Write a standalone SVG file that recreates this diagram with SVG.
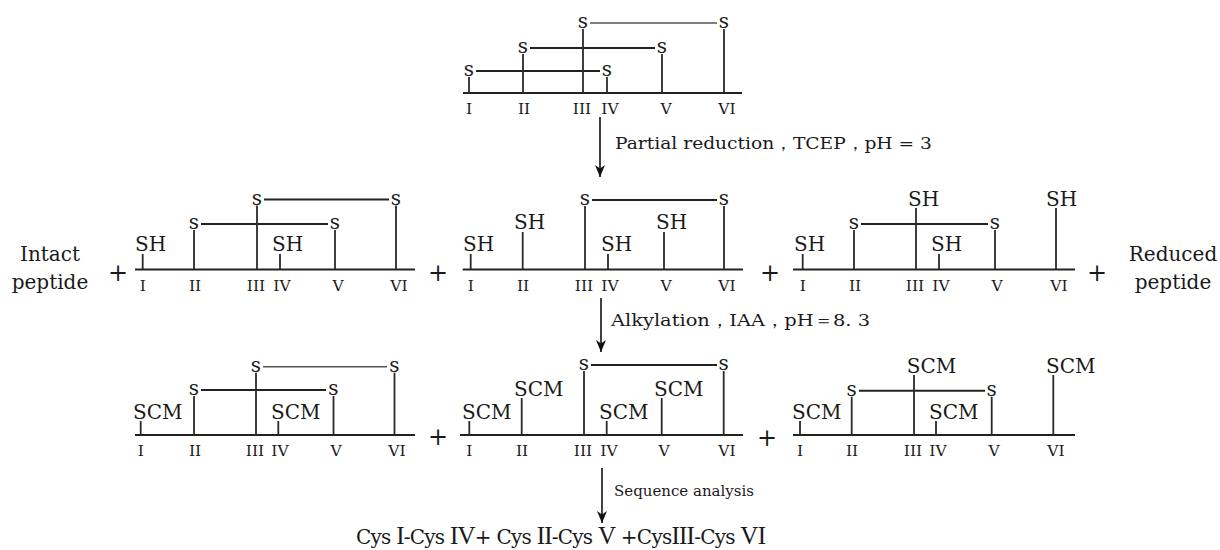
<svg xmlns="http://www.w3.org/2000/svg" width="1220" height="550" viewBox="0 0 1220 550">
<defs>
<marker id="ah" markerUnits="userSpaceOnUse" markerWidth="13" markerHeight="10" refX="12" refY="5" orient="auto" viewBox="0 0 13 10">
<path d="M0,0 L12,5 L0,10 L3.5,5 z" fill="#111"/>
</marker>
<style>
.t{font-family:"DejaVu Serif","Liberation Serif",serif;fill:#1a1a1a}
.lb{font-size:20px}
.s{font-size:20px;text-anchor:middle}
.n{font-size:15.5px;text-anchor:middle}
.pl{font-size:24px;text-anchor:middle}
.st{font-size:17px}
.sq{font-size:15px}
.bl{stroke:#222;stroke-width:2;fill:none}
.v{stroke:#2a2a2a;stroke-width:1.8;fill:none}
.sl{stroke:#222;stroke-width:2;fill:none}
.sll{stroke:#555;stroke-width:1.4;fill:none}
.ar{stroke:#111;stroke-width:1.6;fill:none}
</style>
</defs>
<rect width="1220" height="550" fill="#fff"/>

<g id="native-peptide">
<line class="bl" x1="463" y1="93" x2="742" y2="93"/>
<line class="sll" x1="590" y1="23" x2="717" y2="23"/>
<line class="sl" x1="530" y1="48" x2="655" y2="48"/>
<line class="sl" x1="476" y1="71" x2="600" y2="71"/>
<line class="v" x1="469" y1="77" x2="469" y2="93"/>
<line class="v" x1="607" y1="77" x2="607" y2="93"/>
<line class="v" x1="523" y1="54" x2="523" y2="93"/>
<line class="v" x1="662" y1="54" x2="662" y2="93"/>
<line class="v" x1="583" y1="29" x2="583" y2="93"/>
<line class="v" x1="724" y1="29" x2="724" y2="93"/>
<g class="t s"><text x="583" y="28">s</text><text x="724" y="28">s</text><text x="523" y="53">s</text><text x="662" y="53">s</text><text x="469" y="76">s</text><text x="607" y="76">s</text></g>
<g class="t n"><text x="469" y="114">I</text><text x="524" y="114">II</text><text x="582" y="114">III</text><text x="610" y="114">IV</text><text x="666" y="114">V</text><text x="727" y="114">VI</text></g>
</g>

<g id="intact-label" class="t lb" text-anchor="middle"><text x="50" y="261">Intact</text><text x="50" y="289">peptide</text></g>
<g id="reduced-label" class="t lb" text-anchor="middle"><text x="1173" y="261">Reduced</text><text x="1173" y="289">peptide</text></g>

<g id="partial-1">
<line class="bl" x1="135" y1="269.5" x2="415" y2="269.5"/>
<line class="sl" x1="264" y1="199.5" x2="389" y2="199.5"/>
<line class="sl" x1="201" y1="224" x2="328" y2="224"/>
<line class="v" x1="257" y1="205.5" x2="257" y2="269.5"/>
<line class="v" x1="396" y1="205.5" x2="396" y2="269.5"/>
<line class="v" x1="194" y1="230" x2="194" y2="269.5"/>
<line class="v" x1="335" y1="230" x2="335" y2="269.5"/>
<line class="v" x1="142.7" y1="254" x2="142.7" y2="269.5"/>
<line class="v" x1="280" y1="254" x2="280" y2="269.5"/>
<g class="t s"><text x="257" y="204.5">s</text><text x="396" y="204.5">s</text><text x="194" y="229">s</text><text x="335" y="229">s</text></g>
<g class="t lb"><text x="135" y="250.5">SH</text><text x="272" y="250.5">SH</text></g>
<g class="t n"><text x="142.7" y="291">I</text><text x="195" y="291">II</text><text x="256" y="291">III</text><text x="282" y="291">IV</text><text x="338" y="291">V</text><text x="399" y="291">VI</text></g>
</g>

<g id="partial-2">
<line class="bl" x1="462.7" y1="269.5" x2="743" y2="269.5"/>
<line class="sl" x1="592" y1="200" x2="717" y2="200"/>
<line class="v" x1="585" y1="206" x2="585" y2="269.5"/>
<line class="v" x1="724" y1="206" x2="724" y2="269.5"/>
<line class="v" x1="522.7" y1="232" x2="522.7" y2="269.5"/>
<line class="v" x1="664" y1="232" x2="664" y2="269.5"/>
<line class="v" x1="470.7" y1="254" x2="470.7" y2="269.5"/>
<line class="v" x1="608" y1="254" x2="608" y2="269.5"/>
<g class="t s"><text x="585" y="205">s</text><text x="724" y="205">s</text></g>
<g class="t lb"><text x="463" y="250.5">SH</text><text x="514" y="229">SH</text><text x="601" y="250.5">SH</text><text x="656" y="229">SH</text></g>
<g class="t n"><text x="470.7" y="291">I</text><text x="523" y="291">II</text><text x="584" y="291">III</text><text x="610" y="291">IV</text><text x="666" y="291">V</text><text x="727" y="291">VI</text></g>
</g>

<g id="partial-3">
<line class="bl" x1="793" y1="269.5" x2="1075" y2="269.5"/>
<line class="sl" x1="861" y1="224" x2="988" y2="224"/>
<line class="v" x1="854" y1="230" x2="854" y2="269.5"/>
<line class="v" x1="995" y1="230" x2="995" y2="269.5"/>
<line class="v" x1="916" y1="208" x2="916" y2="269.5"/>
<line class="v" x1="1056" y1="208" x2="1056" y2="269.5"/>
<line class="v" x1="802.7" y1="254" x2="802.7" y2="269.5"/>
<line class="v" x1="939" y1="254" x2="939" y2="269.5"/>
<g class="t s"><text x="854" y="229">s</text><text x="995" y="229">s</text></g>
<g class="t lb"><text x="794" y="250.5">SH</text><text x="908" y="205.5">SH</text><text x="931" y="250.5">SH</text><text x="1046" y="205.5">SH</text></g>
<g class="t n"><text x="802.7" y="291">I</text><text x="855" y="291">II</text><text x="915" y="291">III</text><text x="941" y="291">IV</text><text x="997" y="291">V</text><text x="1059" y="291">VI</text></g>
</g>

<g id="plus-row2" class="t pl"><text x="118" y="280.5">+</text><text x="438" y="280.5">+</text><text x="770" y="280.5">+</text><text x="1097" y="280.5">+</text></g>

<g id="alkylated-1">
<line class="bl" x1="135" y1="435" x2="415" y2="435"/>
<line class="sll" x1="263" y1="366.7" x2="387" y2="366.7"/>
<line class="sl" x1="201" y1="390" x2="326" y2="390"/>
<line class="v" x1="256" y1="372.7" x2="256" y2="435"/>
<line class="v" x1="394.5" y1="372.7" x2="394.5" y2="435"/>
<line class="v" x1="194" y1="396" x2="194" y2="435"/>
<line class="v" x1="333.5" y1="396" x2="333.5" y2="435"/>
<line class="v" x1="140.7" y1="421" x2="140.7" y2="435"/>
<line class="v" x1="278.3" y1="421" x2="278.3" y2="435"/>
<g class="t s"><text x="256" y="371.7">s</text><text x="394.5" y="371.7">s</text><text x="194" y="395">s</text><text x="333.5" y="395">s</text></g>
<g class="t lb"><text x="133" y="419">SCM</text><text x="271" y="419">SCM</text></g>
<g class="t n"><text x="140.7" y="456">I</text><text x="195" y="456">II</text><text x="255" y="456">III</text><text x="280" y="456">IV</text><text x="336" y="456">V</text><text x="397" y="456">VI</text></g>
</g>

<g id="alkylated-2">
<line class="bl" x1="460" y1="435" x2="743" y2="435"/>
<line class="sl" x1="591" y1="365" x2="717" y2="365"/>
<line class="v" x1="584" y1="371" x2="584" y2="435"/>
<line class="v" x1="723.7" y1="371" x2="723.7" y2="435"/>
<line class="v" x1="521.7" y1="398" x2="521.7" y2="435"/>
<line class="v" x1="661.7" y1="398" x2="661.7" y2="435"/>
<line class="v" x1="469.3" y1="421" x2="469.3" y2="435"/>
<line class="v" x1="606.7" y1="421" x2="606.7" y2="435"/>
<g class="t s"><text x="584" y="370">s</text><text x="723.7" y="370">s</text></g>
<g class="t lb"><text x="462" y="419">SCM</text><text x="514" y="396">SCM</text><text x="599" y="419">SCM</text><text x="654" y="396">SCM</text></g>
<g class="t n"><text x="469.3" y="456">I</text><text x="522" y="456">II</text><text x="583" y="456">III</text><text x="609" y="456">IV</text><text x="664" y="456">V</text><text x="727" y="456">VI</text></g>
</g>

<g id="alkylated-3">
<line class="bl" x1="793" y1="435" x2="1075" y2="435"/>
<line class="sl" x1="859" y1="390.7" x2="985" y2="390.7"/>
<line class="v" x1="851.7" y1="396.7" x2="851.7" y2="435"/>
<line class="v" x1="991.7" y1="396.7" x2="991.7" y2="435"/>
<line class="v" x1="914" y1="375" x2="914" y2="435"/>
<line class="v" x1="1053.3" y1="375" x2="1053.3" y2="435"/>
<line class="v" x1="800" y1="421" x2="800" y2="435"/>
<line class="v" x1="936" y1="421" x2="936" y2="435"/>
<g class="t s"><text x="851.7" y="395.7">s</text><text x="991.7" y="395.7">s</text></g>
<g class="t lb"><text x="792" y="419">SCM</text><text x="906.7" y="373">SCM</text><text x="929" y="419">SCM</text><text x="1046" y="373">SCM</text></g>
<g class="t n"><text x="800" y="456">I</text><text x="852" y="456">II</text><text x="913" y="456">III</text><text x="938" y="456">IV</text><text x="994" y="456">V</text><text x="1056" y="456">VI</text></g>
</g>

<g id="plus-row3" class="t pl"><text x="438" y="444.5">+</text><text x="767" y="445.5">+</text></g>

<g id="connectors">
<line class="ar" x1="600" y1="117" x2="600" y2="177" marker-end="url(#ah)"/>
<line class="ar" x1="601" y1="298" x2="601" y2="352" marker-end="url(#ah)"/>
<line class="ar" x1="602" y1="468" x2="602" y2="523" marker-end="url(#ah)"/>
</g>

<g id="step-labels" class="t">
<text class="st" x="615" y="149" textLength="317" lengthAdjust="spacingAndGlyphs">Partial reduction，TCEP，pH = 3</text>
<text class="st" x="611" y="326" textLength="259" lengthAdjust="spacingAndGlyphs">Alkylation，IAA，pH＝8. 3</text>
<text class="sq" x="614" y="496">Sequence analysis</text>
</g>

<g id="result" class="t">
<text x="356" y="544" font-size="20" textLength="410" lengthAdjust="spacing">Cys <tspan font-family="Liberation Serif" font-size="25">I</tspan>-Cys <tspan font-family="Liberation Serif" font-size="25">IV</tspan>+ Cys <tspan font-family="Liberation Serif" font-size="25">II</tspan>-Cys <tspan font-family="Liberation Serif" font-size="25">V</tspan> +Cys<tspan font-family="Liberation Serif" font-size="25">III</tspan>-Cys <tspan font-family="Liberation Serif" font-size="25">VI</tspan></text>
</g>
</svg>
